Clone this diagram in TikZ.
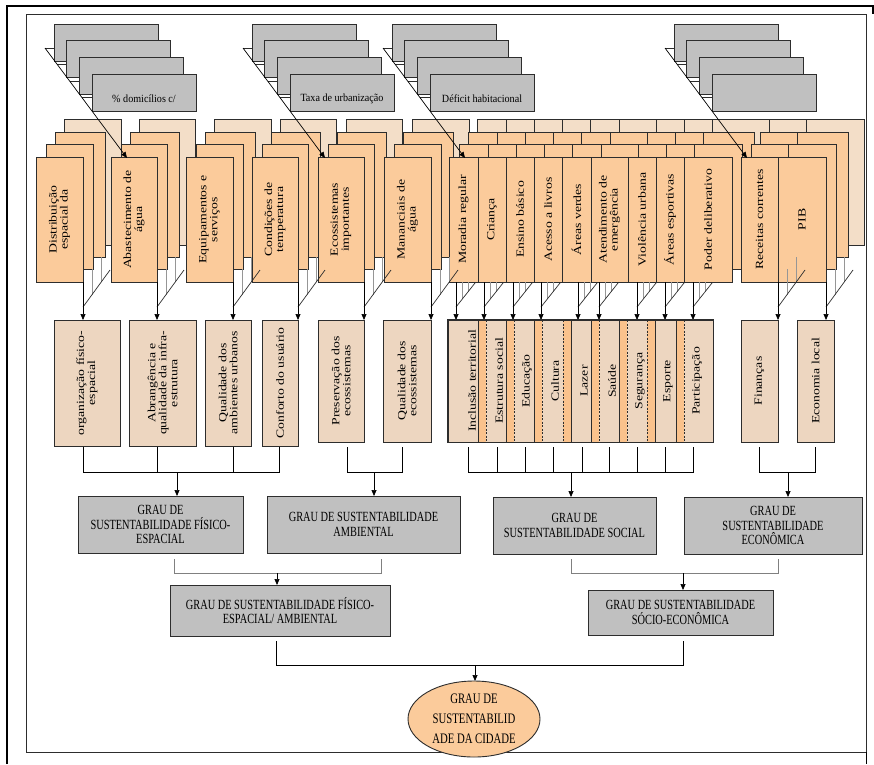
\documentclass[tikz,border=0pt]{standalone}
\usepackage{fontspec}
\setmainfont{Liberation Serif}
\newfontfamily\rotf[FakeStretch=1.25]{Liberation Serif}
\newfontfamily\capf[FakeStretch=0.74]{Liberation Serif}
\newfontfamily\grayf[FakeStretch=0.92]{Liberation Serif}
\usetikzlibrary{arrows.meta,shapes.geometric}
\definecolor{frontor}{RGB}{251,203,155}
\definecolor{backor}{RGB}{243,222,200}
\definecolor{rowtwo}{RGB}{237,214,192}
\definecolor{stripor}{RGB}{250,194,140}
\definecolor{boxgray}{RGB}{192,192,192}
\definecolor{edge}{RGB}{45,45,45}
\definecolor{fanl}{RGB}{150,150,150}
\newcommand\FrontBox[4]{%
  \pgfmathsetmacro\myCx{(#2+#3)/2}%
  \pgfmathsetmacro\myW{#3-#2}%
  \node[frontbox, minimum height=\myW pt] (#1) at (\myCx,219.5) {#4};}
\newcommand\RowTwo[6]{%
  \pgfmathsetmacro\myCx{(#2+#3)/2}%
  \pgfmathsetmacro\myCy{(#4+#5)/2}%
  \pgfmathsetmacro\myW{#3-#2}%
  \pgfmathsetmacro\myH{#5-#4}%
  \node[rowbox, minimum width=\myH pt, minimum height=\myW pt] (#1) at (\myCx,\myCy) {#6};}
\begin{document}
\begin{tikzpicture}[x=1pt,y=-1pt,
  every node/.style={inner sep=0pt},
  graybox/.style={draw=edge, fill=boxgray, line width=0.9pt, minimum width=104pt, minimum height=37pt},
  graytxt/.style={font=\grayf\fontsize{11}{12}\selectfont},
  frontbox/.style={draw=edge, fill=frontor, line width=0.8pt, rotate=90, minimum width=125pt, align=center, font=\rotf\fontsize{11}{11}\selectfont},
  rowbox/.style={draw=edge, fill=rowtwo, line width=0.9pt, rotate=90, align=center, font=\rotf\fontsize{11}{11}\selectfont},
  subtxt/.style={rotate=90, align=center, font=\rotf\fontsize{11}{11}\selectfont},
  graubox/.style={draw=edge, fill=boxgray, line width=0.9pt, align=center, font=\capf\fontsize{14}{14.5}\selectfont},
  layer/.style={draw=edge, line width=0.6pt},
  arr/.style={draw=black, line width=0.7pt, -{Triangle[length=6pt,width=5pt]}},
  bus/.style={draw=black, line width=0.7pt},
  busg/.style={draw=gray, line width=0.8pt},
  fanv/.style={draw=fanl, line width=0.6pt},
  fand/.style={draw=edge, line width=0.7pt},
  sol/.style={solid},
  dsh/.style={dash pattern=on 2pt off 1.5pt},
]
\useasboundingbox (0,0) rectangle (874,764);
\fill[white] (0,0) rectangle (874,764);
% frames
\draw[line width=2.4pt] (7,764) -- (7,6) -- (873,6) -- (873,14);
\draw[draw=edge, line width=1pt] (26,14) rectangle (866,752);
\draw[line width=1pt] (866,752) -- (866,764);

% gray stacks
\foreach \gx/\gt [count=\gi] in {54/{\% domicílios c/},252/{Taxa de urbanização},392/{Déficit habitacional},674/{}} {
  \foreach \k in {0,...,3} {
    \node[graybox] (g\gi-\k) at (\gx+12.67*\k+52, 24+16.7*\k+18.5) {};
  }
  \draw[edge, line width=0.8pt] (\gx-9,48) -- (\gx,48);
  \draw[edge, line width=0.8pt] (\gx+3.3,64.5) -- (\gx+12.67,64.5);
  \draw[edge, line width=0.8pt] (\gx+15.8,81.2) -- (\gx+25.3,81.2);
  \draw[edge, line width=0.8pt] (\gx+28.2,97.8) -- (\gx+38,97.8);
  \node[graytxt] (gt\gi) at (\gx+90,99) {\gt};
}

% back layers
\foreach \xl/\xr in {36/83,111/157,186/233,252/298,318/364,384/431,449/478,478/506,506/534,534/562,562/591,591/628,628/656,656/684,684/732,741/778,778/826}
  \filldraw[layer, fill=backor] (\xl+28,119) rectangle (\xr+38,245);
\foreach \xl/\xr in {36/83,111/157,186/233,252/298,318/364,384/431,449/478,478/506,506/534,534/562,562/591,591/628,628/656,656/684,684/732,741/778,778/826}
  \filldraw[layer, fill=frontor] (\xl+19,132) rectangle (\xr+22,257);
\foreach \xl/\xr in {36/83,111/157,186/233,252/298,318/364,384/431,449/478,478/506,506/534,534/562,562/591,591/628,628/656,656/684,684/732,741/778,778/826}
  \filldraw[layer, fill=frontor] (\xl+10,144) rectangle (\xr+10,269);

% front boxes
\FrontBox{f1}{36}{83}{Distribuição\\espacial da}
\FrontBox{f2}{111}{157}{Abastecimento de\\água}
\FrontBox{f3}{186}{233}{Equipamentos e\\serviços}
\FrontBox{f4}{252}{298}{Condições de\\temperatura}
\FrontBox{f5}{318}{364}{Ecossistemas\\importantes}
\FrontBox{f6}{384}{431}{Mananciais de\\água}
\FrontBox{f7}{449}{478}{Moradia regular}
\FrontBox{f8}{478}{506}{Criança}
\FrontBox{f9}{506}{534}{Ensino básico}
\FrontBox{f10}{534}{562}{Acesso a livros}
\FrontBox{f11}{562}{591}{Áreas verdes}
\FrontBox{f12}{591}{628}{Atendimento de\\emergência}
\FrontBox{f13}{628}{656}{Violência urbana}
\FrontBox{f14}{656}{684}{Áreas esportivas}
\FrontBox{f15}{684}{732}{Poder deliberativo}
\FrontBox{f16}{741}{778}{Receitas correntes}
\FrontBox{f17}{778}{826}{PIB}

% arrows from gray stacks
\foreach \gx in {54,252,392,674}
  \draw[arr] (\gx-9,48) -- (\gx+73,158);

% fans
\foreach \xa in {83,157,233,298,364,431,778,826} {
  \draw[fanv] (\xa+9,269) -- (\xa+9,294.7);
  \draw[fanv] (\xa+18,257) -- (\xa+18,282.3);
  \draw[fand] (\xa+27,270) -- (\xa,307);
  \draw[arr] (\xa,282) -- (\xa,320);
}
\foreach \xa in {456,484,513,541,578,599,637,665,693} {
  \draw[fanv] (\xa+6,282) -- (\xa+6,299.4);
  \draw[fanv] (\xa+12,282) -- (\xa+12,291.8);
  \draw[fand] (\xa+19,283) -- (\xa,307);
  \draw[arr] (\xa,282) -- (\xa,320);
}

% row 2
\RowTwo{r1}{54}{120}{320}{446}{organização físico-\\espacial}
\RowTwo{r2}{129}{196}{320}{446}{Abrangência e\\qualidade da infra-\\estrutura}
\RowTwo{r3}{205}{251}{320}{446}{Qualidade dos\\ambientes urbanos}
\RowTwo{r4}{262}{298}{320}{446}{Conforto do usuário}
\RowTwo{r5}{318}{364}{320}{442}{Preservação dos\\ecossistemas}
\RowTwo{r6}{383}{431}{320}{442}{Qualidade dos\\ecossistemas}
\RowTwo{r8}{741}{778}{320}{442}{Finanças}
\RowTwo{r9}{797}{834}{320}{442}{Economia local}
\node[draw=edge, fill=rowtwo, line width=0.9pt, minimum width=265pt, minimum height=122pt] (soc) at (580.5,381) {};
\foreach \sx/\ls/\rs in {478/sol/dsh,506/sol/dsh,534/sol/dsh,563/dsh/sol,591/sol/dsh,619/sol/dsh,647/dsh/sol,676/sol/dsh} {
  \fill[stripor] (\sx,320.5) rectangle (\sx+8,441.5);
  \draw[edge, line width=0.7pt, \ls] (\sx,320) -- (\sx,442);
  \draw[edge, line width=0.6pt, \rs] (\sx+8,320) -- (\sx+8,442);
}
\draw[edge, line width=0.9pt] (soc.north west) rectangle (soc.south east);
\node[subtxt] (s1) at (472,381) {Inclusão territorial};
\node[subtxt] (s2) at (499,381) {Estrutura social};
\node[subtxt] (s3) at (527,381) {Educação};
\node[subtxt] (s4) at (555,381) {Cultura};
\node[subtxt] (s5) at (584,381) {Lazer};
\node[subtxt] (s6) at (612,381) {Saúde};
\node[subtxt] (s7) at (640,381) {Segurança};
\node[subtxt] (s8) at (668,381) {Esporte};
\node[subtxt] (s9) at (697,381) {Participação};

% row 2 buses
\draw[bus] (83,447) -- (83,472) -- (279,472) -- (279,447);
\draw[bus] (157,447) -- (157,472);
\draw[bus] (233,447) -- (233,472);
\draw[arr] (177,472) -- (177,496);
\draw[bus] (347,447) -- (347,472) -- (402,472) -- (402,447);
\draw[arr] (374,472) -- (374,496);
\draw[bus] (468,447) -- (468,472) -- (693,472) -- (693,447);
\foreach \vx in {497,525,553,582,609,637,665}
  \draw[bus] (\vx,447) -- (\vx,472);
\draw[arr] (571,472) -- (571,497);
\draw[bus] (759,447) -- (759,472) -- (815,472) -- (815,447);
\draw[arr] (788,472) -- (788,497);

% GRAU boxes
\node[graubox, minimum width=165pt, minimum height=57pt] (gA) at (160.5,524.5) {GRAU DE\\SUSTENTABILIDADE FÍSICO-\\ESPACIAL};
\node[graubox, minimum width=193pt, minimum height=57pt] (gB) at (363.5,524.5) {GRAU DE SUSTENTABILIDADE\\AMBIENTAL};
\node[graubox, minimum width=163pt, minimum height=57pt] (gC) at (574.5,525.5) {GRAU DE\\SUSTENTABILIDADE SOCIAL};
\node[graubox, minimum width=178pt, minimum height=57pt] (gD) at (773,525.5) {GRAU DE\\SUSTENTABILIDADE\\ECONÔMICA};

\draw[busg] (174,559) -- (174,573) -- (381,573) -- (381,559);
\draw[arr] (277,573) -- (277,585);
\draw[busg] (571,559) -- (571,573) -- (778,573) -- (778,559);
\draw[arr] (683,573) -- (683,590);

\node[graubox, minimum width=220pt, minimum height=51pt] (gAB) at (280,610.5) {GRAU DE SUSTENTABILIDADE FÍSICO-\\ESPACIAL/ AMBIENTAL};
\node[graubox, minimum width=185pt, minimum height=45pt] (gCD) at (680.5,612.5) {GRAU DE SUSTENTABILIDADE\\SÓCIO-ECONÔMICA};

\draw[bus] (276,641) -- (276,665) -- (683,665) -- (683,641);
\draw[arr] (475,665) -- (475,681);
\node[ellipse, draw=edge, fill=frontor, line width=0.9pt, minimum width=132pt, minimum height=76pt, align=center, font=\capf\fontsize{14.5}{20}\selectfont] (city) at (474,719) {GRAU DE\\SUSTENTABILID\\ADE DA CIDADE};
\end{tikzpicture}
\end{document}
